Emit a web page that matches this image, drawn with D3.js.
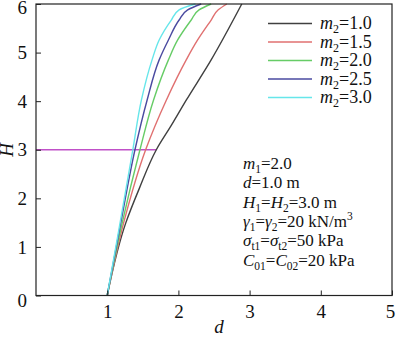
<!DOCTYPE html>
<html><head><meta charset="utf-8">
<script src="https://cdn.jsdelivr.net/npm/d3@7"></script>
<style>body{margin:0;background:#fff}svg{display:block}</style>
</head><body>
<svg id="c" width="400" height="337"></svg>
<script>
const seriesLabels = ["1.0","1.5","2.0","2.5","3.0"];
const seriesColors = ["#404040","#e07070","#66cc66","#4a4aa0","#66e6ea"];
const d_m10 = [1.0,1.26,1.45,1.69,1.9,2.11,2.46,2.89];
const H_m10 = [0,1.49,2.2,3.0,3.5,4.02,4.85,6.0];
const d_m15 = [1.0,1.23,1.54,1.83,2.11,2.27,2.46,2.56,2.68];
const H_m15 = [0,1.49,3.0,4.02,4.85,5.26,5.67,5.88,6.0];
const d_m20 = [1.0,1.21,1.46,1.65,1.86,1.99,2.18,2.29,2.46];
const H_m20 = [0,1.49,3.0,4.02,4.85,5.26,5.67,5.88,6.0];
const d_m25 = [1.0,1.19,1.39,1.56,1.73,1.86,2.01,2.13,2.32];
const H_m25 = [0,1.49,3.0,4.02,4.85,5.26,5.67,5.88,6.0];
const d_m30 = [1.0,1.18,1.36,1.48,1.63,1.73,1.90,2.01,2.24];
const H_m30 = [0,1.49,3.0,4.02,4.85,5.26,5.67,5.88,6.0];
const refLineD = [0,1.69];
const refLineH = [3,3];
const xTicks = [1,2,3,4,5];
const yTicks = [0,1,2,3,4,5,6];
const notes = [
  [["m","i"],["1","sub"],["=2.0",""]],
  [["d","i"],["=1.0 m",""]],
  [["H","i"],["1","sub"],["=",""],["H","i"],["2","sub"],["=3.0 m",""]],
  [["γ","i"],["1","sub"],["=",""],["γ","i"],["2","sub"],["=20 kN/m",""],["3","sup"]],
  [["σ","i"],["t1","sub"],["=",""],["σ","i"],["t2","sub"],["=50 kPa",""]],
  [["C","i"],["01","sub"],["=",""],["C","i"],["02","sub"],["=20 kPa",""]]
];

const FONT = "'Liberation Serif', 'Times New Roman', serif";
const svg = d3.select("#c").attr("font-family", FONT);
const x = d3.scaleLinear().domain([0,5]).range([36,392]);
const y = d3.scaleLinear().domain([0,6]).range([295.5,4]);

const series = [[d_m10,H_m10],[d_m15,H_m15],[d_m20,H_m20],[d_m25,H_m25],[d_m30,H_m30]];
const line = d3.line().x(p=>x(p[0])).y(p=>y(p[1])).curve(d3.curveMonotoneY);

svg.append("path").attr("d", d3.line().x(p=>x(p[0])).y(p=>y(p[1]))(refLineD.map((v,i)=>[v,refLineH[i]])))
  .attr("stroke","#c050c8").attr("stroke-width",1.3).attr("fill","none");

series.forEach((s,i)=>{
  const pts = s[0].map((v,j)=>[v,s[1][j]]);
  svg.append("path").attr("d", line(pts)).attr("stroke",seriesColors[i])
    .attr("stroke-width",1.4).attr("fill","none");
});

// frame
svg.append("rect").attr("x",x(0)).attr("y",y(6)).attr("width",x(5)-x(0)).attr("height",y(0)-y(6))
  .attr("fill","none").attr("stroke","#222").attr("stroke-width",1.2);

// axes with inward ticks
const xa = svg.append("g").attr("transform",`translate(0,${y(0)})`)
  .call(d3.axisBottom(x).tickValues(xTicks).tickFormat(d3.format("d")).tickSizeInner(-5).tickSizeOuter(0).tickPadding(9));
xa.attr("font-family", FONT).attr("font-size",19);
xa.select(".domain").remove();
xa.selectAll("text").attr("fill","#111");
xa.selectAll(".tick").filter(d=>d===5).select("text").attr("dx","-0.1em");
const ya = svg.append("g").attr("transform",`translate(${x(0)},0)`)
  .call(d3.axisLeft(y).tickValues(yTicks).tickFormat(d3.format("d")).tickSizeInner(-5).tickSizeOuter(0).tickPadding(9));
ya.attr("font-family", FONT).attr("font-size",19);
ya.select(".domain").remove();
ya.selectAll("text").attr("fill","#111");
ya.selectAll(".tick").filter(d=>d===0).select("text").attr("dy","0.6em");
ya.selectAll(".tick").filter(d=>d===6).select("text").attr("dy","0.5em");
svg.selectAll(".tick line").attr("stroke","#222");

svg.append("text").attr("x",219).attr("y",333).attr("text-anchor","middle").attr("fill","#111")
  .attr("font-size",19).attr("font-style","italic").text("d");
svg.append("text").attr("transform","translate(13,150) rotate(-90)").attr("text-anchor","middle").attr("fill","#111")
  .attr("font-size",19).attr("font-style","italic").text("H");

// legend
seriesLabels.forEach((lab,i)=>{
  const ly = 23.5 + i*18.5;
  svg.append("line").attr("x1",268).attr("x2",312).attr("y1",ly).attr("y2",ly)
    .attr("stroke",seriesColors[i]).attr("stroke-width",1.5);
  const t = svg.append("text").attr("x",320).attr("y",ly+5.5).attr("font-size",18).attr("fill","#111");
  t.append("tspan").attr("font-style","italic").text("m");
  t.append("tspan").attr("font-size",12).attr("dy",4).text("2");
  t.append("tspan").attr("dy",-4).text("="+lab);
});

// annotation
notes.forEach((parts,i)=>{
  const t = svg.append("text").attr("x",243).attr("y",169 + i*19.3).attr("font-size",17).attr("fill","#111");
  let shift = 0;
  parts.forEach(([txt,kind])=>{
    const sp = t.append("tspan").text(txt);
    let target = 0;
    if(kind==="i") sp.attr("font-style","italic");
    if(kind==="sub"){ sp.attr("font-size",11.5); target = 4; }
    if(kind==="sup"){ sp.attr("font-size",11.5); target = -7; }
    sp.attr("dy", target - shift);
    shift = target;
  });
});
</script>
</body></html>
